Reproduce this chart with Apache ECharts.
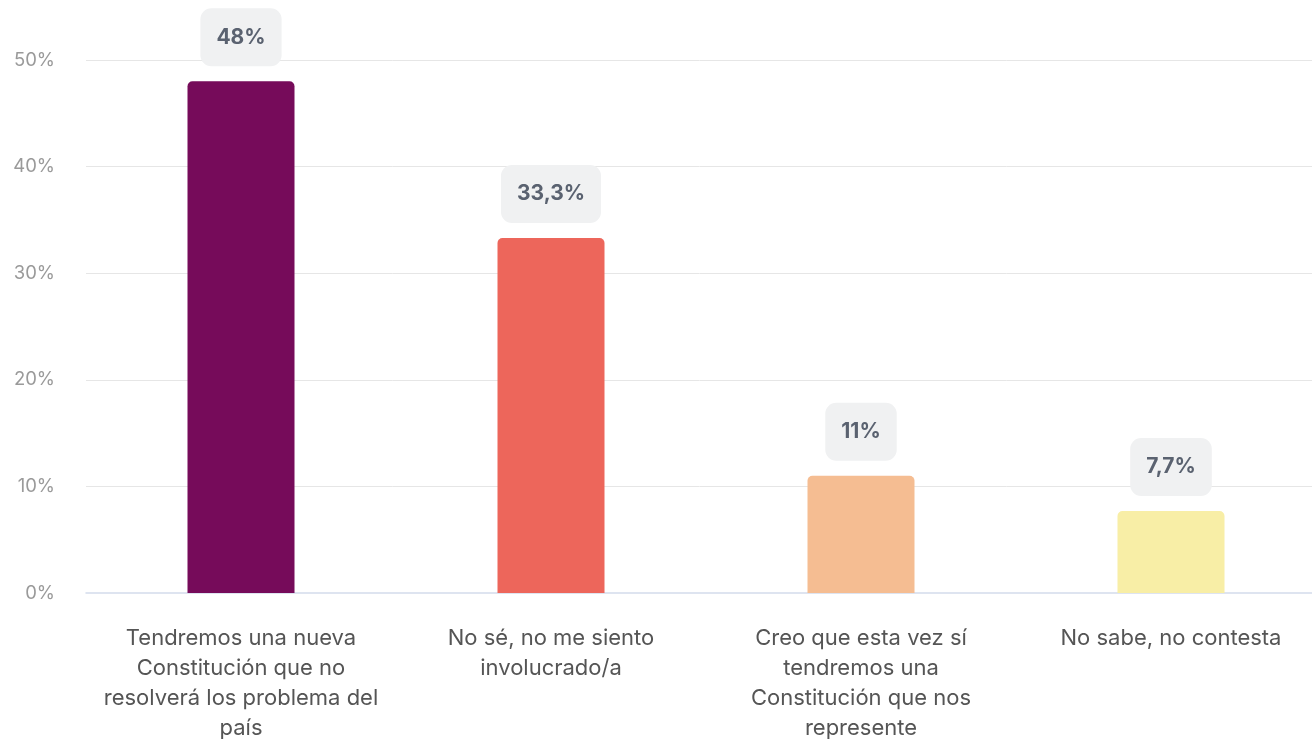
<!DOCTYPE html>
<html><head><meta charset="utf-8">
<script src="https://cdn.jsdelivr.net/npm/echarts@6/dist/echarts.min.js"></script>
<style>html,body{margin:0;padding:0;background:#fff;overflow:hidden}#c{width:1312px;height:739px}</style>
</head><body><div id="c"></div>
<script>
const categories = [
  "Tendremos una nueva\nConstitución que no\nresolverá los problema del\npaís",
  "No sé, no me siento\ninvolucrado/a",
  "Creo que esta vez sí\ntendremos una\nConstitución que nos\nrepresente",
  "No sabe, no contesta"
];
const values = [48, 33.3, 11, 7.7];
const colors = ["#760b5a", "#ed665b", "#f5bd92", "#f8eea6"];
const yTicks = [0, 10, 20, 30, 40, 50];

const chart = echarts.init(document.getElementById('c'), null, {renderer: 'canvas'});
chart.setOption({
  animation: false,
  textStyle: {fontFamily: 'Inter, Roboto, sans-serif'},
  grid: {left: 86, width: 1240, top: 60, height: 533, containLabel: false, outerBoundsMode: 'none'},
  xAxis: {
    type: 'category', data: categories,
    axisLine: {lineStyle: {color: '#d3dbeb', width: 1.5}},
    axisTick: {show: false},
    axisLabel: {color: '#555', fontSize: 22, lineHeight: 30, margin: 30, interval: 0, hideOverlap: false, fontFamily: 'Inter, Roboto, sans-serif'}
  },
  yAxis: {
    type: 'value', min: yTicks[0], max: yTicks[yTicks.length-1], interval: 10,
    axisLabel: {formatter: v => v + '%', color: '#9a9a9a', fontSize: 18.5, margin: 31, fontFamily: 'Inter, Roboto, sans-serif'},
    splitLine: {showMinLine: false, lineStyle: {color: '#e6e6e6', width: 1}},
    axisLine: {show: false}, axisTick: {show: false}
  },
  series: [{
    type: 'bar', barWidth: 107,
    data: values.map((v, i) => ({value: v, itemStyle: {color: colors[i], borderRadius: [5,5,0,0]}})),
    label: {
      show: true, position: 'top', distance: 15,
      formatter: p => String(p.value).replace('.', ',') + '%',
      color: '#5a6270', fontSize: 21, fontWeight: 'bold', lineHeight: 26,
      backgroundColor: '#f0f1f2', borderRadius: 11,
      padding: [16, 16, 16, 16], fontFamily: 'Inter, Roboto, sans-serif'
    }
  }]
});
</script></body></html>
